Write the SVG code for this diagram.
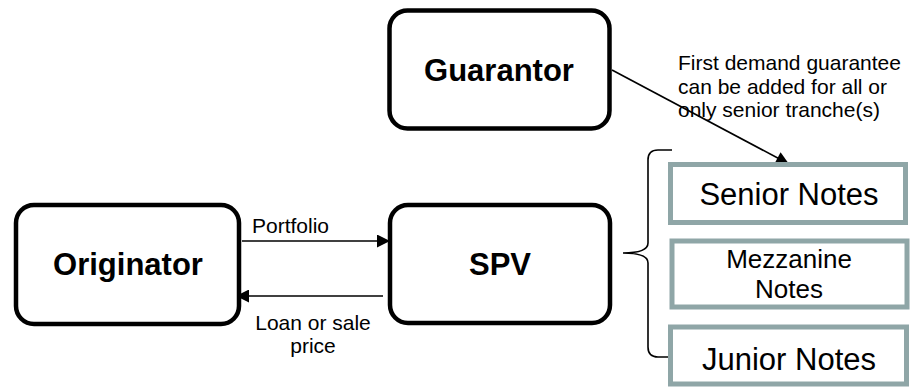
<svg xmlns="http://www.w3.org/2000/svg" width="911" height="387" viewBox="0 0 911 387">
<defs>
<marker id="ah" viewBox="0 0 10 10" refX="10" refY="5" markerWidth="9" markerHeight="9" markerUnits="userSpaceOnUse" orient="auto"><path d="M0,0 L10,5 L0,10 z" fill="#000"/></marker>
<marker id="ah2" viewBox="0 0 10 10" refX="10" refY="5" markerWidth="14" markerHeight="13" markerUnits="userSpaceOnUse" orient="auto"><path d="M0,0 L10,5 L0,10 z" fill="#000"/></marker>
</defs>
<style>
.rb{fill:#fff;stroke:#000;stroke-width:4.5}
.nb{fill:#fff;stroke:#8FA6A7;stroke-width:5}
.bt{font-family:"Liberation Sans",Arial,sans-serif;font-weight:bold;font-size:31px;text-anchor:middle;fill:#000}
.nt{font-family:"Liberation Sans",Arial,sans-serif;font-size:31px;text-anchor:middle;fill:#000}
.mt{font-family:"Liberation Sans",Arial,sans-serif;font-size:26px;text-anchor:middle;fill:#000}
.lt{font-family:"Liberation Sans",Arial,sans-serif;font-size:21px;fill:#000}
.cn{stroke:#000;stroke-width:1.6;fill:none}
</style>
<g id="connectors">
<line class="cn" x1="242" y1="241" x2="390" y2="241" marker-end="url(#ah2)"/>
<line class="cn" x1="383" y1="296" x2="236" y2="296" marker-end="url(#ah2)"/>
<line class="cn" x1="612" y1="70" x2="789" y2="164" marker-end="url(#ah2)"/>
<path class="cn" d="M672,150 L658,150 Q648,150 648,160 L648,243 Q648,253 623,253 Q648,253 648,263 L648,347 Q648,357 658,357 L668,357"/>
</g>
<g id="guarantor">
<rect class="rb" x="389.5" y="10.5" width="220" height="118" rx="18"/>
<text class="bt" x="499" y="81">Guarantor</text>
</g>
<g id="originator">
<rect class="rb" x="16" y="205" width="223" height="119" rx="18"/>
<text class="bt" x="128" y="275">Originator</text>
</g>
<g id="spv">
<rect class="rb" x="390" y="205" width="220" height="118" rx="18"/>
<text class="bt" x="500" y="275">SPV</text>
</g>
<g id="senior">
<rect class="nb" x="670.5" y="164.5" width="235" height="58"/>
<text class="nt" x="789" y="205">Senior Notes</text>
</g>
<g id="mezzanine">
<rect class="nb" x="672" y="241" width="235" height="66"/>
<text class="mt" x="789" y="268">Mezzanine</text>
<text class="mt" x="789" y="298">Notes</text>
</g>
<g id="junior">
<rect class="nb" x="670.5" y="327" width="236" height="57"/>
<text class="nt" x="789" y="370">Junior Notes</text>
</g>
<g id="labels">
<text class="lt" x="252" y="233">Portfolio</text>
<text class="lt" x="313" y="330" text-anchor="middle">Loan or sale</text>
<text class="lt" x="313" y="353" text-anchor="middle">price</text>
<text class="lt" x="678" y="70">First demand guarantee</text>
<text class="lt" x="678" y="94">can be added for all or</text>
<text class="lt" x="678" y="117">only senior tranche(s)</text>
</g>
</svg>
